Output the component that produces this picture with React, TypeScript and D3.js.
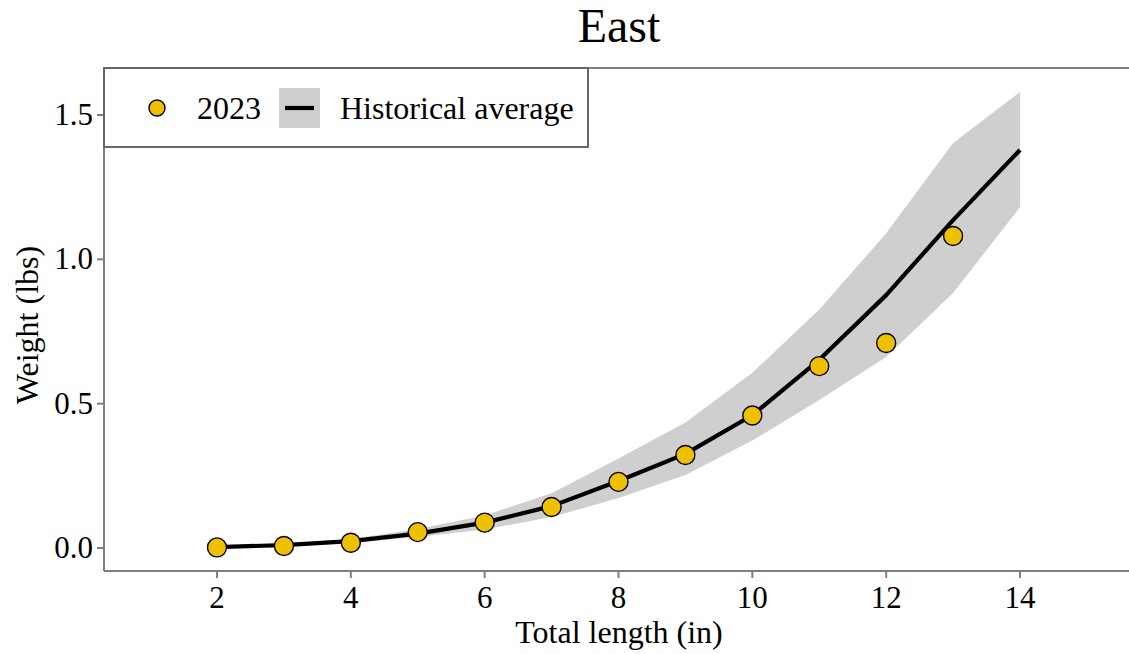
import React from "react";
import * as d3 from "d3";

// Observed 2023 weights by total length
const lengths2023: number[] = [2, 3, 4, 5, 6, 7, 8, 9, 10, 11, 12, 13];
const weights2023: number[] = [0.002, 0.007, 0.018, 0.055, 0.088, 0.142, 0.229, 0.322, 0.459, 0.63, 0.71, 1.081];

// Historical average with its range
const lengthsHist: number[] = [2, 3, 4, 5, 6, 7, 8, 9, 10, 11, 12, 13, 14];
const histMean: number[] = [0.003, 0.01, 0.024, 0.05, 0.088, 0.145, 0.232, 0.326, 0.46, 0.652, 0.876, 1.136, 1.379];
const histLower: number[] = [0.002, 0.006, 0.017, 0.038, 0.064, 0.107, 0.173, 0.253, 0.372, 0.513, 0.662, 0.883, 1.181];
const histUpper: number[] = [0.004, 0.013, 0.031, 0.066, 0.113, 0.19, 0.31, 0.435, 0.607, 0.826, 1.09, 1.403, 1.58];

const xTicks: number[] = [2, 4, 6, 8, 10, 12, 14];
const yTicks: number[] = [0, 0.5, 1.0, 1.5];

const W = 1129;
const H = 654;
const panel = { left: 104, right: 1129, top: 68, bottom: 571 };
const FONT = "'Liberation Serif', 'Times New Roman', serif";
const AXIS = "#7f7f7f";
const GOLD = "#EFC000";
const BAND = "#CFCFCF";

export default function App() {
  const x = d3.scaleLinear().domain([2, 14]).range([217, 1020]);
  const y = d3.scaleLinear().domain([0, 1.5]).range([548, 115]);

  const hist = lengthsHist.map((l, i) => ({ l, m: histMean[i], lo: histLower[i], hi: histUpper[i] }));
  const area = d3
    .area<{ l: number; lo: number; hi: number }>()
    .x((d) => x(d.l))
    .y0((d) => y(d.lo))
    .y1((d) => y(d.hi));
  const line = d3
    .line<{ l: number; m: number }>()
    .x((d) => x(d.l))
    .y((d) => y(d.m));

  return (
    <svg
      width={W}
      height={H}
      viewBox={`0 0 ${W} ${H}`}
      style={{ position: "absolute", left: 0, top: 0, background: "#fff" }}
      fontFamily={FONT}
    >
      <defs>
        <clipPath id="panel-clip">
          <rect x={panel.left} y={panel.top} width={panel.right - panel.left} height={panel.bottom - panel.top} />
        </clipPath>
      </defs>

      <text x={619} y={42} textAnchor="middle" fontSize={48} fill="#000">
        East
      </text>

      <g clipPath="url(#panel-clip)">
        <path d={area(hist) ?? ""} fill={BAND} />
        <path d={line(hist) ?? ""} fill="none" stroke="#000" strokeWidth={4.2} strokeLinejoin="round" />
        {lengths2023.map((l, i) => (
          <circle key={l} cx={x(l)} cy={y(weights2023[i])} r={9.5} fill={GOLD} stroke="#000" strokeWidth={1.4} />
        ))}
      </g>

      {/* axis lines */}
      <line x1={panel.left} x2={panel.right} y1={panel.top} y2={panel.top} stroke={AXIS} strokeWidth={2} />
      <line x1={panel.left} x2={panel.left} y1={panel.top} y2={panel.bottom} stroke={AXIS} strokeWidth={2} />
      <line x1={panel.left} x2={panel.right} y1={panel.bottom} y2={panel.bottom} stroke={AXIS} strokeWidth={2} />

      {/* x axis */}
      {xTicks.map((t) => (
        <g key={t}>
          <line x1={x(t)} x2={x(t)} y1={panel.bottom} y2={panel.bottom + 7} stroke={AXIS} strokeWidth={2} />
          <text x={x(t)} y={608} textAnchor="middle" fontSize={31} fill="#000">
            {t}
          </text>
        </g>
      ))}
      <text x={619} y={643} textAnchor="middle" fontSize={32} fill="#000">
        Total length (in)
      </text>

      {/* y axis */}
      {yTicks.map((t) => (
        <g key={t}>
          <line x1={panel.left - 7} x2={panel.left} y1={y(t)} y2={y(t)} stroke={AXIS} strokeWidth={2} />
          <text x={panel.left - 11} y={y(t) + 10} textAnchor="end" fontSize={31} fill="#000">
            {d3.format(".1f")(t)}
          </text>
        </g>
      ))}
      <text
        transform={`translate(38, 325) rotate(-90)`}
        textAnchor="middle"
        fontSize={32}
        fill="#000"
      >
        Weight (lbs)
      </text>

      {/* legend */}
      <g>
        <rect x={104} y={68} width={484} height={79} fill="#fff" stroke="#666" strokeWidth={2} />
        <circle cx={157} cy={108} r={8} fill={GOLD} stroke="#000" strokeWidth={1.4} />
        <text x={197} y={119} fontSize={32} fill="#000">
          2023
        </text>
        <rect x={279} y={88} width={41} height={40} fill={BAND} />
        <line x1={285} x2={314} y1={108} y2={108} stroke="#000" strokeWidth={4.2} />
        <text x={340} y={119} fontSize={32} fill="#000">
          Historical average
        </text>
      </g>
    </svg>
  );
}
